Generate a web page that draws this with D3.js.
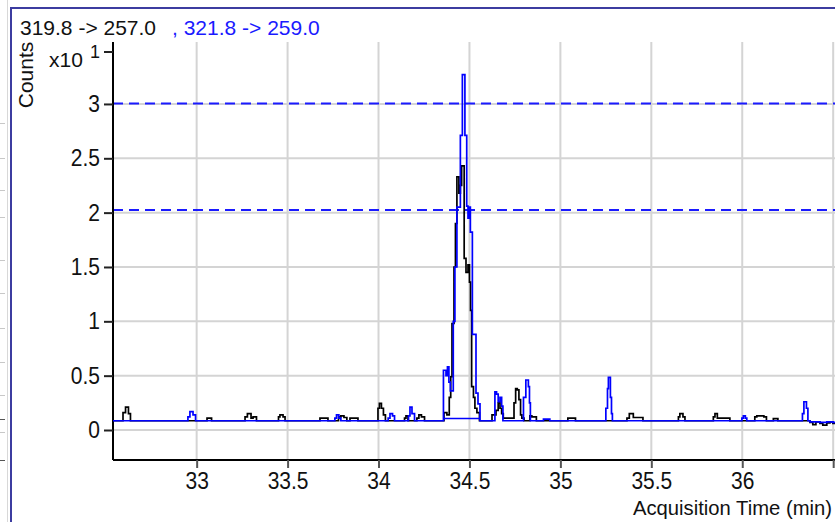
<!DOCTYPE html>
<html>
<head>
<meta charset="utf-8">
<script src="https://cdn.jsdelivr.net/npm/d3@7"></script>
<style>
  html, body { margin: 0; padding: 0; background: #fff; }
  svg { display: block; font-family: "Liberation Sans", Arial, sans-serif; }
</style>
</head>
<body>
<svg id="chart" width="835" height="522"></svg>
<script>
// Extracted ion chromatogram, two MRM transitions (counts x10^1)
const transitionLabels = ["319.8 -> 257.0", ", 321.8 -> 259.0"];
const xTicks = [33, 33.5, 34, 34.5, 35, 35.5, 36, 36.5];
const xTickLabels = ["33", "33.5", "34", "34.5", "35", "35.5", "36", ""];
const yTicks = [0, 0.5, 1, 1.5, 2, 2.5, 3];
const yTickLabels = ["0", "0.5", "1", "1.5", "2", "2.5", "3"];
const thresholdLevels = [3.005, 2.025];

// 319.8 -> 257.0 (black)
const blackTimes = [
  32.54, 32.595, 32.609, 32.625, 32.636,
  33.057, 33.082,
  33.266, 33.279, 33.299, 33.310, 33.329,
  33.450, 33.458, 33.475, 33.486,
  33.678, 33.722,
  33.780, 33.793, 33.810, 33.826,
  33.843, 33.887,
  33.997, 34.005, 34.016, 34.027, 34.038,
  34.143, 34.151, 34.162,
  34.211, 34.222, 34.236, 34.253,
  34.360, 34.376, 34.389, 34.397, 34.404, 34.415, 34.423, 34.431, 34.442, 34.450,
  34.457, 34.471, 34.481, 34.492, 34.500, 34.506, 34.512, 34.522, 34.530, 34.541, 34.555,
  34.624, 34.646, 34.658, 34.668, 34.677, 34.686,
  34.745, 34.754, 34.763, 34.772, 34.781, 34.788, 34.800,
  34.832, 34.843, 34.868,
  35.041, 35.083,
  35.366, 35.379, 35.401, 35.454,
  35.649, 35.657, 35.674, 35.685,
  35.841, 35.850, 35.863, 35.932,
  36.069, 36.080, 36.119, 36.133,
  36.171, 36.196,
  36.372, 36.388, 36.405, 36.427, 36.443, 36.465, 36.482, 36.498, 36.515
];
const blackCounts = [
  0.085, 0.16, 0.21, 0.15, 0.085,
  0.11, 0.085,
  0.12, 0.15, 0.11, 0.12, 0.085,
  0.12, 0.14, 0.12, 0.085,
  0.11, 0.085,
  0.12, 0.13, 0.115, 0.085,
  0.11, 0.085,
  0.20, 0.245, 0.20, 0.14, 0.085,
  0.11, 0.13, 0.085,
  0.11, 0.14, 0.12, 0.085,
  0.16, 0.14, 0.30, 0.49, 0.98, 1.50, 1.90, 2.33, 2.18, 2.25,
  2.43, 1.58, 1.45, 1.52, 1.36, 1.10, 0.40, 0.30, 0.20, 0.16, 0.085,
  0.14, 0.18, 0.25, 0.20, 0.15, 0.11,
  0.25, 0.38, 0.37, 0.28, 0.14, 0.11, 0.085,
  0.13, 0.12, 0.085,
  0.11, 0.085,
  0.11, 0.15, 0.115, 0.085,
  0.12, 0.15, 0.12, 0.085,
  0.12, 0.15, 0.11, 0.085,
  0.12, 0.13, 0.12, 0.085,
  0.105, 0.085,
  0.07, 0.05, 0.075, 0.06, 0.045, 0.065, 0.075, 0.06, 0.07
];

// 321.8 -> 259.0 (blue)
const blueTimes = [
  32.54,
  32.952, 32.963, 32.980, 32.994,
  33.760, 33.769, 33.782, 33.793,
  34.053, 34.063, 34.077, 34.088,
  34.165, 34.173, 34.184, 34.198,
  34.357, 34.371, 34.379, 34.387, 34.395, 34.411, 34.420, 34.431, 34.450, 34.461,
  34.475, 34.485, 34.492, 34.500, 34.505, 34.516, 34.536, 34.547, 34.558,
  34.640, 34.649, 34.658, 34.668, 34.677, 34.684,
  34.797, 34.810, 34.824, 34.830, 34.835,
  34.907, 34.942,
  35.250, 35.259, 35.264, 35.275, 35.281, 35.286,
  35.998, 36.006, 36.017, 36.025,
  36.331, 36.339, 36.353, 36.361,
  36.372, 36.427, 36.465, 36.498, 36.515
];
const blueCounts = [
  0.085,
  0.12, 0.17, 0.14, 0.085,
  0.11, 0.14, 0.11, 0.085,
  0.11, 0.15, 0.13, 0.085,
  0.13, 0.21, 0.15, 0.085,
  0.55, 0.50, 0.58, 0.44, 0.36, 1.00, 1.50, 2.05, 2.71, 3.27,
  2.71, 2.06, 1.95, 2.05, 1.82, 0.88, 0.34, 0.24, 0.085,
  0.35, 0.33, 0.26, 0.30, 0.22, 0.085,
  0.30, 0.46, 0.40, 0.25, 0.085,
  0.10, 0.085,
  0.20, 0.38, 0.485, 0.30, 0.15, 0.085,
  0.11, 0.13, 0.11, 0.085,
  0.15, 0.26, 0.20, 0.085,
  0.075, 0.07, 0.075, 0.07, 0.07
];

// Integration baseline under the main peak
const peakBaseTimes = [34.355, 34.558];
const peakBaseCounts = [0.106, 0.106];

const svg = d3.select("#chart");
const W = 835, H = 522;
const plot = { left: 113, right: 835, top: 42, bottom: 460 };
const tickStretch = 1.17; // tick labels use a tall, narrow face

const x = d3.scaleLinear().domain([32.54, 36.51]).range([plot.left, plot.right]);
const y = d3.scaleLinear().domain([-0.276, 3.57]).range([plot.bottom, plot.top]);

// Window frame: neighbouring pane strip and blue border
svg.append("rect").attr("x", 0).attr("y", 0).attr("width", W).attr("height", H).attr("fill", "#fff");
svg.append("line").attr("x1", 7.5).attr("x2", 7.5).attr("y1", 0).attr("y2", H)
  .attr("stroke", "#d8d8d8").attr("stroke-width", 1);
const stripTicks = [123, 158, 190, 217, 260, 293, 328, 362, 395, 432];
svg.selectAll(".strip-tick").data(stripTicks).join("line")
  .attr("x1", 0).attr("x2", 5).attr("y1", d => d + 0.5).attr("y2", d => d + 0.5)
  .attr("stroke", "#c8c8c8");
svg.selectAll(".strip-tick-dark").data([419, 460]).join("line")
  .attr("x1", 0).attr("x2", 5).attr("y1", d => d + 0.5).attr("y2", d => d + 0.5)
  .attr("stroke", "#555");
svg.append("line").attr("x1", 11).attr("x2", 11).attr("y1", 7).attr("y2", H)
  .attr("stroke", "#3c3ca0").attr("stroke-width", 2);
svg.append("line").attr("x1", 10).attr("x2", W).attr("y1", 8).attr("y2", 8)
  .attr("stroke", "#3c3ca0").attr("stroke-width", 2);

// Grid
const grid = svg.append("g").attr("stroke", "#d4d4d4").attr("stroke-width", 2);
grid.selectAll(".gx").data(xTicks).join("line")
  .attr("x1", d => x(d)).attr("x2", d => x(d))
  .attr("y1", plot.top).attr("y2", plot.bottom);
grid.selectAll(".gy").data(yTicks).join("line")
  .attr("x1", plot.left).attr("x2", plot.right)
  .attr("y1", d => y(d)).attr("y2", d => y(d));

// Threshold lines
svg.selectAll(".thr").data(thresholdLevels).join("line")
  .attr("x1", plot.left).attr("x2", plot.right)
  .attr("y1", d => y(d)).attr("y2", d => y(d))
  .attr("stroke", "#1a1aff").attr("stroke-width", 2).attr("stroke-dasharray", "10,6");

// Axes
const xAxis = d3.axisBottom(x).tickValues(xTicks).tickSize(8)
  .tickFormat((d, i) => xTickLabels[i]);
const gx = svg.append("g").attr("transform", `translate(0,${plot.bottom})`).call(xAxis);
gx.select(".domain").attr("stroke", "#000").attr("stroke-width", 2)
  .attr("d", `M${plot.left},0H${plot.right}`);
gx.selectAll(".tick line").attr("stroke", "#555").attr("stroke-width", 2);
gx.selectAll(".tick text").attr("fill", "#111").attr("font-size", 21)
  .attr("font-family", "Liberation Sans, Arial, sans-serif")
  .attr("y", 29.5 / tickStretch).attr("dy", null)
  .attr("transform", `scale(1,${tickStretch})`);

const yAxis = d3.axisLeft(y).tickValues(yTicks).tickSize(9)
  .tickFormat((d, i) => yTickLabels[i]);
const gy = svg.append("g").attr("transform", `translate(${plot.left},0)`).call(yAxis);
gy.select(".domain").attr("stroke", "#000").attr("stroke-width", 2)
  .attr("d", `M0,${plot.top}V${plot.bottom}`);
gy.selectAll(".tick line").attr("stroke", "#222").attr("stroke-width", 2);
gy.selectAll(".tick text").attr("fill", "#111").attr("font-size", 21)
  .attr("font-family", "Liberation Sans, Arial, sans-serif")
  .attr("x", -13).attr("dy", null).attr("y", 7.6 / tickStretch)
  .attr("transform", `scale(1,${tickStretch})`);

// Exponent marker at the top of the count axis
svg.append("line").attr("x1", plot.left - 9).attr("x2", plot.left)
  .attr("y1", 52).attr("y2", 52).attr("stroke", "#222").attr("stroke-width", 2);
svg.append("text").attr("x", 49).attr("y", 67).attr("font-size", 21).attr("fill", "#111").text("x10");
svg.append("text").attr("x", 90).attr("y", 58).attr("font-size", 18).attr("fill", "#111").text("1");

// Axis titles
svg.append("text")
  .attr("transform", "translate(33,75) rotate(-90)")
  .attr("text-anchor", "middle").attr("font-size", 21).attr("fill", "#111")
  .text("Counts");
svg.append("text").attr("x", 633).attr("y", 515)
  .attr("font-size", 20).attr("fill", "#111")
  .attr("textLength", 199).attr("lengthAdjust", "spacingAndGlyphs")
  .text("Acquisition Time (min)");

// Transition labels
svg.append("text").attr("x", 20).attr("y", 35).attr("font-size", 21).attr("fill", "#111")
  .text(transitionLabels[0]);
svg.append("text").attr("x", 172).attr("y", 35).attr("font-size", 21).attr("fill", "#1a1aff")
  .text(transitionLabels[1]);

// Traces
svg.append("clipPath").attr("id", "plotClip").append("rect")
  .attr("x", plot.left).attr("y", plot.top - 5)
  .attr("width", plot.right - plot.left).attr("height", plot.bottom - plot.top + 5);

const trace = d3.line().x(d => x(d[0])).y(d => y(d[1])).curve(d3.curveStepAfter);
const traces = svg.append("g").attr("clip-path", "url(#plotClip)").attr("fill", "none");

traces.append("path").datum(d3.zip(blackTimes, blackCounts))
  .attr("d", trace).attr("stroke", "#000").attr("stroke-width", 1.7);
traces.append("path").datum(d3.zip(blueTimes, blueCounts))
  .attr("d", trace).attr("stroke", "#0000ff").attr("stroke-width", 1.7);
traces.append("path").datum(d3.zip(peakBaseTimes, peakBaseCounts))
  .attr("d", d3.line().x(d => x(d[0])).y(d => y(d[1])))
  .attr("stroke", "#0000ff").attr("stroke-width", 1.5);
</script>
</body>
</html>
